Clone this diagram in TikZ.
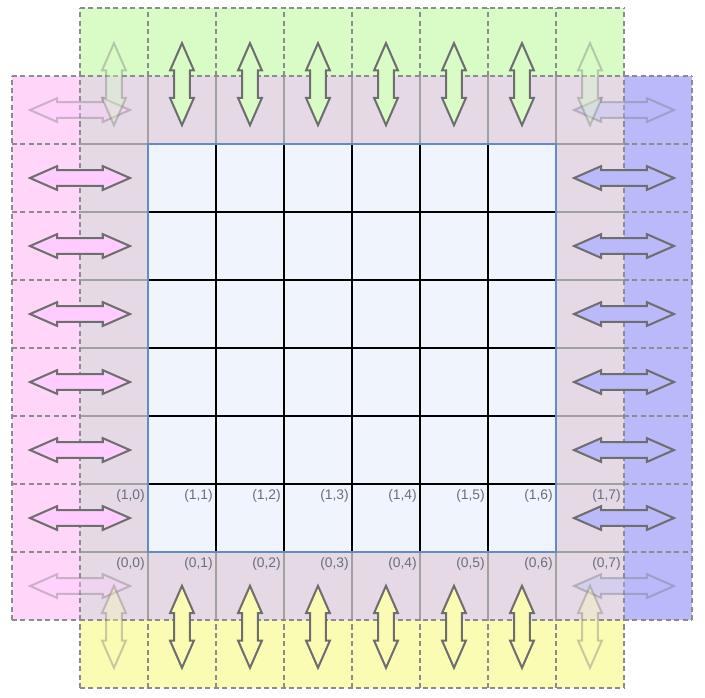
\documentclass[tikz,border=0pt]{standalone}
\usepackage{fontspec}
\newfontfamily\cellfont{Liberation Sans}

\definecolor{haloTop}{RGB}{217,252,199}
\definecolor{haloBottom}{RGB}{250,252,180}
\definecolor{haloLeft}{RGB}{255,214,250}
\definecolor{haloRight}{RGB}{186,186,250}
\definecolor{arrowPink}{RGB}{255,204,255}
\definecolor{ringFill}{RGB}{229,217,229}
\definecolor{innerFill}{RGB}{240,244,252}
\definecolor{innerEdge}{RGB}{100,140,195}
\definecolor{ringGray}{RGB}{160,160,160}
\definecolor{dashGray}{RGB}{140,140,140}
\definecolor{arrowGray}{RGB}{110,110,110}
\definecolor{labelGray}{RGB}{105,110,125}

\tikzset{
    halo/.style={draw=dashGray, line width=0.6pt, dash pattern=on 2.1pt off 1.4pt},
    ringline/.style={draw=ringGray, line width=0.6pt},
    gridline/.style={draw=black, line width=0.75pt},
    arrowline/.style={draw=arrowGray, line width=0.85pt, line join=miter},
    faded/.style={opacity=0.35},
    celllabel/.style={anchor=north east, inner sep=0pt, text=labelGray,
        font=\cellfont\fontsize{5.8}{7}\selectfont},
}

% double arrow: style, x, y, angle, half length
\newcommand{\dblarrow}[5]{%
    \draw[arrowline, #1, shift={(#2,#3)}, rotate=#4]
        (-#5,0) -- (-#5+0.4,0.175) -- (-#5+0.4,0.115) -- (#5-0.4,0.115)
        -- (#5-0.4,0.175) -- (#5,0) -- (#5-0.4,-0.175) -- (#5-0.4,-0.115)
        -- (-#5+0.4,-0.115) -- (-#5+0.4,-0.175) -- cycle;
}

\begin{document}
\begin{tikzpicture}
    \useasboundingbox (-2.176,-2.132) rectangle (8.191,8.118);

    % fills
    \fill[haloTop] (-1,7) rectangle (7,8);
    \fill[haloBottom] (-1,-2) rectangle (7,-1);
    \fill[haloLeft] (-2,-1) rectangle (-1,7);
    \fill[haloRight] (7,-1) rectangle (8,7);
    \fill[ringFill] (-1,-1) rectangle (7,7);
    \fill[innerFill] (0,0) rectangle (6,6);

    % ring separators
    \foreach \i in {0,...,6} {
        \draw[ringline] (\i,6) -- (\i,7);
        \draw[ringline] (\i,-1) -- (\i,0);
        \draw[ringline] (-1,\i) -- (0,\i);
        \draw[ringline] (6,\i) -- (7,\i);
    }

    % halo cells
    \draw[halo] (-1,7) grid (7,8);
    \draw[halo] (-1,-2) grid (7,-1);
    \draw[halo] (-2,-1) grid (-1,7);
    \draw[halo] (7,-1) grid (8,7);

    % inner grid
    \draw[gridline] (0,0) grid (6,6);
    \draw[draw=innerEdge, line width=0.6pt] (0,0) rectangle (6,6);

    % cell labels
    \foreach \c in {0,...,7} {
        \node[celllabel] (lbl-1-\c) at (\c-0.04,0.93) {(1,\c)};
        \node[celllabel] (lbl-0-\c) at (\c-0.04,-0.07) {(0,\c)};
    }

    % arrows
    \foreach \i in {0,...,5} {
        \dblarrow{fill=arrowPink}{-1}{\i+0.5}{0}{0.735}
        \dblarrow{fill=haloRight}{7}{\i+0.5}{0}{0.735}
        \dblarrow{fill=haloTop}{\i+0.5}{6.88}{90}{0.603}
        \dblarrow{fill=haloBottom}{\i+0.5}{-1.1}{90}{0.603}
    }

    % corner arrows
    \dblarrow{fill=arrowPink, faded}{-1}{6.5}{0}{0.735}
    \dblarrow{fill=haloRight, faded}{7}{6.5}{0}{0.735}
    \dblarrow{fill=arrowPink, faded}{-1}{-0.5}{0}{0.735}
    \dblarrow{fill=haloRight, faded}{7}{-0.5}{0}{0.735}
    \dblarrow{fill=haloTop, faded}{-0.5}{6.88}{90}{0.603}
    \dblarrow{fill=haloTop, faded}{6.5}{6.88}{90}{0.603}
    \dblarrow{fill=haloBottom, faded}{-0.5}{-1.1}{90}{0.603}
    \dblarrow{fill=haloBottom, faded}{6.5}{-1.1}{90}{0.603}

\end{tikzpicture}
\end{document}
